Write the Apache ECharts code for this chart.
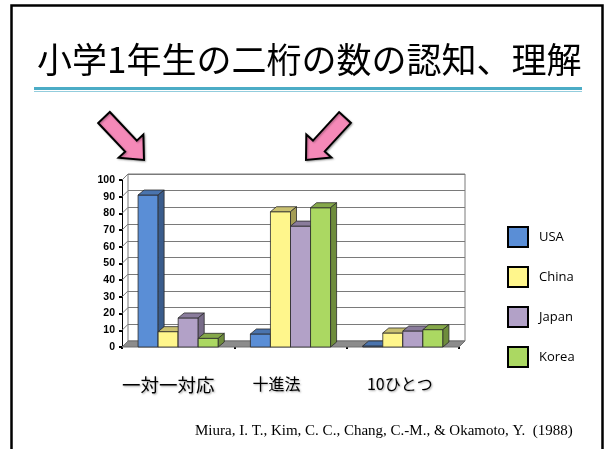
<!DOCTYPE html>
<html>
<head>
<meta charset="utf-8">
<script src="https://cdn.jsdelivr.net/npm/echarts@6/dist/echarts.min.js"></script>
<style>html,body{margin:0;padding:0;background:#fff}#c{width:608px;height:449px}</style>
</head>
<body>
<div id="c"></div>
<script>
// ---- data ----
const categories = ['一対一対応', '十進法', '10ひとつ'];
const seriesNames = ['USA', 'China', 'Japan', 'Korea'];
const usa   = [91, 7.8, 0.6];
const china = [9.2, 81, 8.4];
const japan = [17.4, 72.4, 9.6];
const korea = [5.2, 83.4, 10.4];
const yTicks = [0, 10, 20, 30, 40, 50, 60, 70, 80, 90, 100];
const title = '小学1年生の二桁の数の認知、理解';
const citation = 'Miura, I. T., Kim, C. C., Chang, C.-M., & Okamoto, Y.  (1988)';

// ---- styles / layout ----
const faces = [
  {front: '#5A8ED6', top: '#4A74AE', side: '#3A5C8C'},
  {front: '#FFF68C', top: '#C9C070', side: '#A39C55'},
  {front: '#B2A1C7', top: '#8A7C9C', side: '#776B88'},
  {front: '#ABD862', top: '#85A84A', side: '#6E8C3C'}
];
const labelShift = [20, 28, 6];
const labelSize = [18.5, 16, 16];
const DX = 6, DY = -5;        // bar depth
const WX = 6, WY = -6;        // wall depth
const barFrac = 0.714;

const seriesData = [usa, china, japan, korea];

function barRenderer(k) {
  return function (params, api) {
    const ci = api.value(0), v = api.value(1);
    const base = api.coord([ci, 0]);
    const top = api.coord([ci, v]);
    const band = api.size([1, 0])[0];
    const bw = band * barFrac / 4;
    const x0 = base[0] + (k - 2) * bw;
    const ty = top[1], by = base[1];
    const f = faces[k];
    const ls = {stroke: '#2b2b2b', lineWidth: 0.8, lineJoin: 'round'};
    return {
      type: 'group',
      children: [
        {type: 'rect', shape: {x: x0, y: ty, width: bw, height: by - ty},
         style: Object.assign({fill: f.front}, ls)},
        {type: 'polygon', shape: {points: [[x0, ty], [x0 + bw, ty], [x0 + bw + DX, ty + DY], [x0 + DX, ty + DY]]},
         style: Object.assign({fill: f.top}, ls)},
        {type: 'polygon', shape: {points: [[x0 + bw, ty], [x0 + bw + DX, ty + DY], [x0 + bw + DX, by + DY], [x0 + bw, by]]},
         style: Object.assign({fill: f.side}, ls)}
      ]
    };
  };
}

function wallRenderer(params, api) {
  const v = api.value(1);
  const p = api.coord([0, v]);
  const band = api.size([1, 0])[0];
  const xl = p[0] - band / 2;
  const children = [
    {type: 'line', shape: {x1: xl, y1: p[1], x2: xl + WX, y2: p[1] + WY},
     style: {stroke: '#7a7a7a', lineWidth: 1}}
  ];
  if (v === 0) {
    const xr = xl + band * categories.length;
    children.unshift({type: 'polygon',
      shape: {points: [[xl, p[1]], [xr, p[1]], [xr + WX, p[1] + WY], [xl + WX, p[1] + WY]]},
      style: {fill: '#8c8c8c', stroke: '#6f6f6f', lineWidth: 1}});
  }
  return {type: 'group', children: children};
}

function arrowPoints(tail, tip, hw, headHW, headLen) {
  const dx = tip[0] - tail[0], dy = tip[1] - tail[1];
  const L = Math.hypot(dx, dy);
  const ux = dx / L, uy = dy / L, nx = -uy, ny = ux;
  const hb = [tip[0] - ux * headLen, tip[1] - uy * headLen];
  return [
    [tail[0] + nx * hw, tail[1] + ny * hw],
    [hb[0] + nx * hw, hb[1] + ny * hw],
    [hb[0] + nx * headHW, hb[1] + ny * headHW],
    tip,
    [hb[0] - nx * headHW, hb[1] - ny * headHW],
    [hb[0] - nx * hw, hb[1] - ny * hw],
    [tail[0] - nx * hw, tail[1] - ny * hw]
  ];
}

const chart = echarts.init(document.getElementById('c'), null, {renderer: 'canvas'});

const series = seriesNames.map((name, k) => ({
  name: name,
  type: 'custom',
  xAxisIndex: 0, yAxisIndex: 0,
  z: 3 + k,
  itemStyle: {color: faces[k].front},
  renderItem: barRenderer(k),
  data: categories.map((c, i) => [i, seriesData[k][i]])
}));
series.unshift({
  name: 'wall', type: 'custom', silent: true,
  xAxisIndex: 0, yAxisIndex: 0, z: 1,
  renderItem: wallRenderer,
  data: yTicks.map(v => [0, v])
});

const option = {
  backgroundColor: '#fff',
  animation: false,
  grid: [
    {left: 122, top: 180, width: 337, height: 167, show: false},
    {left: 122 + WX, top: 180 + WY, width: 337, height: 167, show: true,
     borderColor: '#7a7a7a', borderWidth: 1, backgroundColor: '#fff', z: 0}
  ],
  xAxis: [
    {type: 'category', gridIndex: 0,
     data: categories.map((c, i) => ({value: c, textStyle: {padding: [0, labelShift[i], 0, 0], fontSize: labelSize[i]}})),
     axisLine: {show: false},
     axisTick: {show: true, length: 2, lineStyle: {color: '#000', width: 2}},
     axisLabel: {margin: 29, fontSize: 16, color: '#000', fontFamily: 'Noto Sans CJK JP',
       textShadowColor: 'rgba(0,0,0,0.35)', textShadowBlur: 2, textShadowOffsetX: 1, textShadowOffsetY: 1}},
    {type: 'category', gridIndex: 1, data: categories, show: false}
  ],
  yAxis: [
    {type: 'value', gridIndex: 0, min: 0, max: 100, interval: 10,
     axisLine: {show: true, lineStyle: {color: '#000', width: 1}},
     axisTick: {show: true, length: 3, lineStyle: {color: '#000', width: 2}},
     axisLabel: {fontSize: 10.5, fontWeight: 'bold', color: '#000', fontFamily: 'Liberation Sans', margin: 7},
     splitLine: {show: false}},
    {type: 'value', gridIndex: 1, min: 0, max: 100, interval: 10,
     axisLine: {show: false}, axisTick: {show: false}, axisLabel: {show: false},
     splitLine: {show: true, lineStyle: {color: '#7a7a7a', width: 1}}}
  ],
  legend: {
    data: seriesNames,
    orient: 'vertical', left: 507, top: 226, padding: 0,
    itemWidth: 20, itemHeight: 20, itemGap: 18,
    icon: 'rect',
    itemStyle: {borderColor: '#000', borderWidth: 2},
    textStyle: {fontSize: 13, color: '#000', fontFamily: 'Open Sans', padding: [0, 0, 0, 6], lineHeight: 20},
    selectedMode: false
  },
  series: series,
  graphic: [
    {type: 'rect', shape: {x: 11.5, y: 5.5, width: 591, height: 470},
     style: {fill: 'none', stroke: '#000', lineWidth: 2.5}, z: 10},
    {type: 'text', x: 37, y: 60,
     style: {text: title, font: '35px "Noto Sans CJK JP"', fill: '#000', textVerticalAlign: 'middle'}},
    {type: 'rect', shape: {x: 34, y: 87, width: 548, height: 3}, style: {fill: '#4BACC6'}},
    {type: 'rect', shape: {x: 34, y: 91, width: 548, height: 1}, style: {fill: '#93CDDD'}},
    {type: 'polygon', shape: {points: arrowPoints([104, 117.5], [144, 160], 8, 17, 19)},
     style: {fill: '#F589B8', stroke: '#000', lineWidth: 2, lineJoin: 'miter',
       shadowColor: 'rgba(0,0,0,0.3)', shadowBlur: 2, shadowOffsetX: 1, shadowOffsetY: 1}},
    {type: 'polygon', shape: {points: arrowPoints([345, 117.5], [306, 160], 8, 17, 19)},
     style: {fill: '#F589B8', stroke: '#000', lineWidth: 2, lineJoin: 'miter',
       shadowColor: 'rgba(0,0,0,0.3)', shadowBlur: 2, shadowOffsetX: 1, shadowOffsetY: 1}},
    {type: 'text', x: 195, y: 431,
     style: {text: citation, font: '15px "Liberation Serif"', fill: '#000', textVerticalAlign: 'middle'}}
  ]
};
chart.setOption(option);
</script>
</body>
</html>
